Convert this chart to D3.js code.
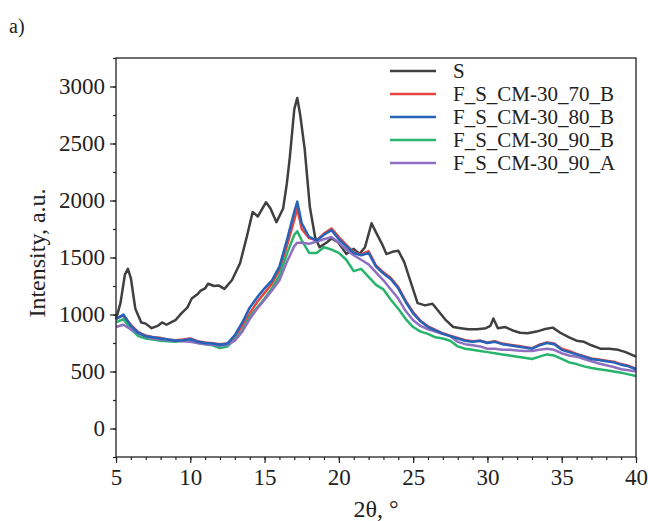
<!DOCTYPE html>
<html>
<head>
<meta charset="utf-8">
<script src="https://cdn.jsdelivr.net/npm/d3@7"></script>
<style>
  html, body { margin: 0; padding: 0; background: #fff; }
  svg text { font-family: "Liberation Serif", "Times New Roman", serif; fill: #222; }
</style>
</head>
<body>
<svg id="chart" width="648" height="521"></svg>
<script>
// ---------- data ----------
const seriesNames = ["S", "F_S_CM-30_70_B", "F_S_CM-30_80_B", "F_S_CM-30_90_B", "F_S_CM-30_90_A"];
const seriesColors = ["#404040", "#e8453f", "#2463b8", "#27b46c", "#8f6fc0"];

const thetaS = [5, 5.3, 5.6, 5.8, 6.0, 6.3, 6.7, 7.0, 7.4, 7.8, 8.1, 8.4, 8.7, 9.0, 9.4, 9.8, 10.1, 10.5, 10.7, 11.0, 11.2, 11.6, 11.9, 12.3, 12.8, 13.35, 13.8, 14.2, 14.55, 15.1, 15.4, 15.8, 16.25, 16.5, 16.7, 17.0, 17.2, 17.4, 17.7, 18.05, 18.4, 18.7, 19.2, 19.5, 19.95, 20.5, 21.0, 21.4, 21.76, 22.2, 22.5, 22.9, 23.2, 23.6, 24.0, 24.4, 24.8, 25.3, 25.8, 26.3, 26.7, 27.2, 27.7, 28.2, 28.7, 29.3, 29.9, 30.2, 30.4, 30.7, 31.2, 31.7, 32.2, 32.7, 33.3, 33.8, 34.4, 34.9, 35.5, 36.0, 36.5, 37.0, 37.6, 38.2, 38.8, 39.3, 40];
const valuesS = [960, 1100, 1350, 1400, 1320, 1050, 930, 920, 880, 900, 930, 910, 930, 950, 1010, 1060, 1140, 1180, 1210, 1230, 1270, 1250, 1255, 1225, 1300, 1450, 1680, 1900, 1860, 1985, 1930, 1810, 1930, 2150, 2380, 2800, 2900, 2750, 2450, 1940, 1680, 1590, 1634, 1667, 1634, 1532, 1576, 1532, 1590, 1800, 1720, 1620, 1530, 1550, 1560, 1460, 1300, 1100, 1080, 1095, 1030, 950, 890, 880, 870, 870, 880, 900, 965, 880, 890, 860, 840, 835, 850, 870, 885, 840, 800, 770, 760, 730, 700, 700, 690, 670, 630];

const thetaF = [5, 5.5, 6, 6.5, 7, 7.5, 8, 8.5, 9, 9.5, 10, 10.5, 11, 11.5, 12, 12.5, 13, 13.5, 14, 14.5, 15, 15.5, 16, 16.5, 17, 17.2, 17.5, 18, 18.5, 19, 19.5, 20, 20.5, 21, 21.5, 22, 22.5, 23, 23.5, 24, 24.5, 25, 25.5, 26, 26.5, 27, 27.5, 28, 28.5, 29, 29.5, 30, 30.5, 31, 31.5, 32, 32.5, 33, 33.5, 34, 34.5, 35, 35.5, 36, 36.5, 37, 37.5, 38, 38.5, 39, 39.5, 40];
const values70B = [965, 990, 910, 845, 815, 800, 795, 780, 775, 780, 790, 765, 755, 748, 740, 745, 800, 900, 1010, 1110, 1190, 1270, 1390, 1600, 1830, 1930, 1750, 1670, 1650, 1710, 1755, 1680, 1610, 1545, 1525, 1555, 1430, 1370, 1320, 1240, 1120, 1020, 945, 895, 865, 835, 815, 795, 775, 765, 770, 755, 765, 745, 735, 725, 715, 705, 735, 755, 745, 700, 680, 655, 635, 615, 605, 595, 585, 565, 550, 525];
const values80B = [960, 1000, 900, 840, 810, 800, 790, 780, 770, 775, 785, 760, 750, 745, 735, 745, 820, 930, 1060, 1150, 1230, 1300, 1420, 1650, 1900, 1990, 1800, 1680, 1650, 1700, 1740, 1660, 1600, 1540, 1520, 1540, 1420, 1360, 1310, 1230, 1110, 1010, 940, 890, 860, 830, 810, 790, 770, 760, 770, 750, 760, 740, 730, 720, 710, 700, 730, 750, 740, 690, 670, 650, 630, 610, 600, 590, 580, 560, 545, 520];
const values90B = [930, 960, 870, 810, 790, 780, 770, 765, 760, 770, 770, 750, 740, 730, 705, 720, 780, 860, 980, 1060, 1140, 1230, 1340, 1530, 1700, 1730, 1650, 1540, 1540, 1590, 1570, 1540, 1480, 1380, 1400, 1330, 1260, 1220, 1130, 1050, 960, 890, 850, 830, 800, 790, 770, 720, 700, 690, 680, 670, 660, 650, 640, 630, 620, 610, 630, 650, 640, 610, 580, 565, 545, 530, 520, 510, 500, 490, 475, 460];
const values90A = [890, 910, 870, 835, 805, 790, 780, 775, 770, 765, 760, 750, 740, 735, 725, 735, 770, 850, 960, 1050, 1130, 1210, 1300, 1460, 1600, 1630, 1630, 1620, 1640, 1660, 1680, 1630, 1570, 1520, 1480, 1440, 1370, 1300, 1220, 1140, 1030, 950, 900, 870, 850, 830, 810, 760, 740, 730, 720, 700, 700, 690, 690, 685, 680, 680, 690, 700, 690, 660, 640, 630, 610, 590, 570, 555, 540, 520, 510, 500];

const xTicks = [5, 10, 15, 20, 25, 30, 35, 40];
const yTicks = [0, 500, 1000, 1500, 2000, 2500, 3000];

// ---------- layout ----------
const svg = d3.select("#chart");
const L = 116, R = 636, T = 58, B = 457;

const x = d3.scaleLinear().domain([5, 40]).range([L, R]);
const y = d3.scaleLinear().domain([-250, 3250]).range([B, T]);

const series = [
  { name: seriesNames[0], color: seriesColors[0], xs: thetaS, ys: valuesS },
  { name: seriesNames[1], color: seriesColors[1], xs: thetaF, ys: values70B },
  { name: seriesNames[2], color: seriesColors[2], xs: thetaF, ys: values80B },
  { name: seriesNames[3], color: seriesColors[3], xs: thetaF, ys: values90B },
  { name: seriesNames[4], color: seriesColors[4], xs: thetaF, ys: values90A }
];

// lines
const line = d3.line().x(d => x(d[0])).y(d => y(d[1]));
const drawOrder = [0, 1, 3, 4, 2];
const gLines = svg.append("g");
drawOrder.forEach(i => {
  const s = series[i];
  gLines.append("path")
    .datum(s.xs.map((v, k) => [v, s.ys[k]]))
    .attr("d", line)
    .attr("fill", "none")
    .attr("stroke", s.color)
    .attr("stroke-width", 2.5)
    .attr("stroke-linejoin", "round");
});

// frame
svg.append("rect").attr("x", L).attr("y", T).attr("width", R - L).attr("height", B - T)
  .attr("fill", "none").attr("stroke", "#222").attr("stroke-width", 1.3);

// axes
const xAxis = d3.axisBottom(x).tickValues(xTicks).tickSize(6).tickPadding(6).tickFormat(d3.format("d"));
const xMinor = d3.axisBottom(x).tickValues(d3.range(5, 40.01, 1)).tickSize(3).tickFormat("");
const yAxis = d3.axisLeft(y).tickValues(yTicks).tickSize(6).tickPadding(5).tickFormat(d3.format("d"));
const yMinor = d3.axisLeft(y).tickValues(d3.range(-250, 3250.1, 250)).tickSize(3).tickFormat("");

function styleAxis(g) {
  g.select(".domain").remove();
  g.selectAll("line").attr("stroke", "#222").attr("stroke-width", 1.2);
  g.selectAll("text").attr("fill", "#222").style("font-size", "23px")
    .style("font-family", "'Liberation Serif', serif");
}
svg.append("g").attr("transform", `translate(0,${B})`).call(xMinor).call(styleAxis);
svg.append("g").attr("transform", `translate(0,${B})`).call(xAxis).call(styleAxis);
svg.append("g").attr("transform", `translate(${L},0)`).call(yMinor).call(styleAxis);
svg.append("g").attr("transform", `translate(${L},0)`).call(yAxis).call(styleAxis);

// axis titles
svg.append("text").attr("x", 376).attr("y", 517).attr("text-anchor", "middle")
  .style("font-size", "24px").text("2θ, °");
svg.append("text").attr("transform", "translate(45,253) rotate(-90)").attr("text-anchor", "middle")
  .style("font-size", "24px").text("Intensity, a.u.");
svg.append("text").attr("x", 9).attr("y", 33).style("font-size", "20px").text("a)");

// legend
const legend = svg.append("g");
series.forEach((s, i) => {
  const yy = 71 + i * 23;
  legend.append("line").attr("x1", 390).attr("x2", 436).attr("y1", yy).attr("y2", yy)
    .attr("stroke", s.color).attr("stroke-width", 2.5);
  legend.append("text").attr("x", 453).attr("y", yy + 7).style("font-size", "21px").text(s.name);
});
</script>
</body>
</html>
